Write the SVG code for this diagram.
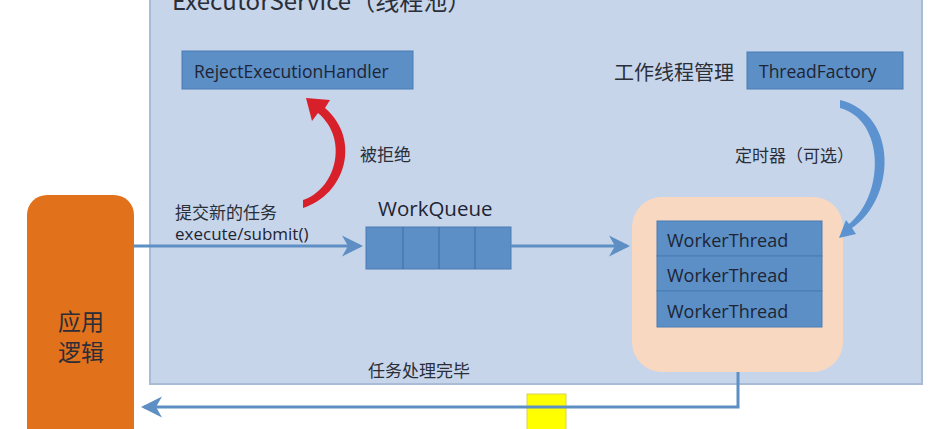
<svg xmlns="http://www.w3.org/2000/svg" width="934" height="429" viewBox="0 0 934 429">
<defs>
<style>
.t{font-family:"Open Sans","Noto Sans CJK SC",sans-serif;fill:#1e2433}
.c{font-family:"Noto Sans CJK SC",sans-serif;fill:#2a2e38}
.box{fill:#5b8fc6;stroke:#4a7cb4;stroke-width:1}
.ln{fill:none;stroke:#5e8fc4;stroke-width:3}
</style>
<marker id="ah" markerWidth="8" markerHeight="8" refX="6" refY="4" orient="auto" markerUnits="strokeWidth">
<path d="M0,0.5 L7,4 L0,7.5 L2,4 Z" fill="#5e8fc4"/>
</marker>
</defs>
<rect x="0" y="0" width="934" height="429" fill="#ffffff"/>
<g id="executor">
<rect x="150" y="-10" width="772" height="394" fill="#c6d5ea" stroke="#a8bcd8" stroke-width="2"/>
<text class="c" x="172" y="10" font-size="24">ExecutorService（线程池）</text>
</g>
<g id="reject">
<rect class="box" x="182" y="51" width="231" height="38"/>
<text class="t" x="194" y="78" font-size="17.5">RejectExecutionHandler</text>
</g>
<g id="threadfactory">
<text class="c" x="614" y="80" font-size="20">工作线程管理</text>
<rect class="box" x="747" y="52" width="156" height="37"/>
<text class="t" x="759" y="78" font-size="17.5">ThreadFactory</text>
</g>
<g id="app">
<rect x="27" y="195" width="107" height="260" rx="20" fill="#e2711c"/>
<text class="c" x="81" y="330" font-size="23" text-anchor="middle">应用</text>
<text class="c" x="81" y="361" font-size="23" text-anchor="middle">逻辑</text>
</g>
<g id="workqueue">
<text class="t" x="378" y="216" font-size="20.5">WorkQueue</text>
<rect class="box" x="366" y="227" width="145" height="42"/>
<line x1="403" y1="227" x2="403" y2="269" stroke="#3f6da3" stroke-width="1"/>
<line x1="439" y1="227" x2="439" y2="269" stroke="#3f6da3" stroke-width="1"/>
<line x1="475" y1="227" x2="475" y2="269" stroke="#3f6da3" stroke-width="1"/>
</g>
<g id="workers">
<rect x="632" y="197" width="211" height="175" rx="30" fill="#f8d8c0"/>
<rect class="box" x="657" y="221" width="165" height="35"/>
<rect class="box" x="657" y="256" width="165" height="35"/>
<rect class="box" x="657" y="291" width="165" height="36"/>
<text class="t" x="667" y="247" font-size="18">WorkerThread</text>
<text class="t" x="667" y="282" font-size="18">WorkerThread</text>
<text class="t" x="667" y="318" font-size="18">WorkerThread</text>
</g>
<g id="token">
<rect x="527" y="394" width="39" height="40" fill="#ffff00" stroke="#d8d060" stroke-width="1"/>
</g>
<g id="connectors">
<line class="ln" x1="134" y1="246" x2="360" y2="246" marker-end="url(#ah)"/>
<line class="ln" x1="511" y1="246" x2="627" y2="246" marker-end="url(#ah)"/>
<polyline class="ln" points="738,372 738,407 144,407" marker-end="url(#ah)"/>
<path d="M303,208 C345,195 362,140 325,108 L330,100 L306,98 L312,121 L318,113 C350,140 335,190 303,200 Z" fill="#d8202a"/>
<path d="M840,100 C900,115 895,200 852,228 L856,234 L839,238 L846,220 L849,224 C885,195 885,120 840,108 Z" fill="#5b92cf"/>
</g>
<g id="labels">
<text class="c" x="360" y="161" font-size="17">被拒绝</text>
<text class="c" x="735" y="162" font-size="17">定时器（可选）</text>
<text class="c" x="175" y="219" font-size="17">提交新的任务</text>
<text class="t" x="175" y="240" font-size="17">execute/submit()</text>
<text class="c" x="368" y="377" font-size="17">任务处理完毕</text>
</g>
</svg>
